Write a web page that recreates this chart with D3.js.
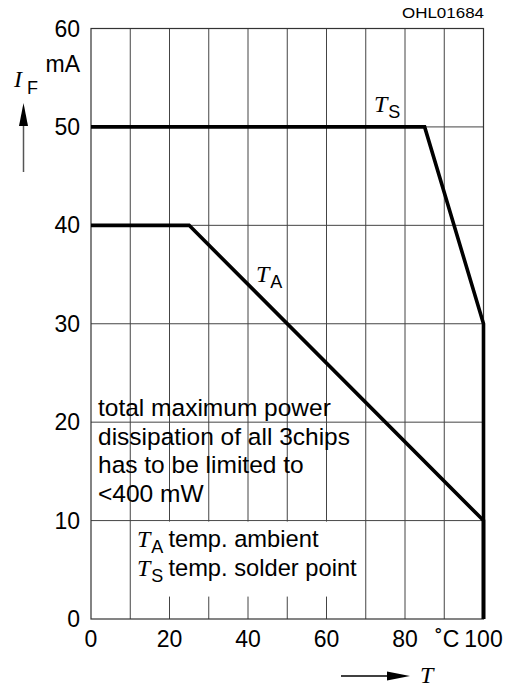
<!DOCTYPE html>
<html lang="en">
<head>
<meta charset="utf-8">
<title>OHL01684</title>
<script src="https://d3js.org/d3.v7.min.js"></script>
<style>
  body { margin: 0; background: #fff; }
  text { font-family: "Liberation Sans", Arial, sans-serif; fill: #000; }
  .it { font-family: "Liberation Serif", "Times New Roman", serif; font-style: italic; }
</style>
</head>
<body>
<script>
// data
var xTicks = [0, 20, 40, 60, 80, 100];
var yTicks = [0, 10, 20, 30, 40, 50, 60];
var gridX = [10, 20, 30, 40, 50, 60, 70, 80, 90];
var gridY = [10, 20, 30, 40, 50];

var tsTemp = [0, 85, 100, 100];
var tsCurrent = [50, 50, 30, 0];
var taTemp = [0, 25, 100, 100];
var taCurrent = [40, 40, 10, 0];

var noteLines = ["total maximum power", "dissipation of all 3chips", "has to be limited to", "<400 mW"];

var width = 509, height = 689;

var x = d3.scaleLinear().domain([0, 100]).range([91, 483.5]);
var y = d3.scaleLinear().domain([0, 60]).range([619, 28.5]);

var svg = d3.select("body").append("svg")
    .attr("width", width)
    .attr("height", height);

// grid
svg.selectAll(".gx").data(gridX).enter().append("line")
    .attr("x1", function(d) { return x(d); })
    .attr("x2", function(d) { return x(d); })
    .attr("y1", y(60)).attr("y2", y(0))
    .attr("stroke", "#444").attr("stroke-width", 1);

svg.selectAll(".gy").data(gridY).enter().append("line")
    .attr("x1", x(0)).attr("x2", x(100))
    .attr("y1", function(d) { return y(d); })
    .attr("y2", function(d) { return y(d); })
    .attr("stroke", "#444").attr("stroke-width", 1);

// frame
svg.append("rect")
    .attr("x", x(0)).attr("y", y(60))
    .attr("width", x(100) - x(0)).attr("height", y(0) - y(60))
    .attr("fill", "none").attr("stroke", "#333").attr("stroke-width", 1.2);

// white patch behind legend
svg.append("rect")
    .attr("x", x(10) + 1.5).attr("y", y(10) + 1)
    .attr("width", x(70) - x(10) - 3).attr("height", 75)
    .attr("fill", "#fff");

// curves
var line = d3.line()
    .x(function(d) { return x(d[0]); })
    .y(function(d) { return y(d[1]); });

svg.append("path")
    .datum(d3.zip(tsTemp, tsCurrent))
    .attr("d", line)
    .attr("fill", "none").attr("stroke", "#000").attr("stroke-width", 3.6)
    .attr("stroke-linejoin", "miter");

svg.append("path")
    .datum(d3.zip(taTemp, taCurrent))
    .attr("d", line)
    .attr("fill", "none").attr("stroke", "#000").attr("stroke-width", 3.6)
    .attr("stroke-linejoin", "miter");

// tick labels
svg.selectAll(".yl").data(yTicks).enter().append("text")
    .attr("x", 80)
    .attr("y", function(d) { return y(d) + 8; })
    .attr("text-anchor", "end")
    .attr("font-size", 23)
    .text(function(d) { return d; });

svg.selectAll(".xl").data(xTicks).enter().append("text")
    .attr("x", function(d) { return x(d); })
    .attr("y", 647)
    .attr("text-anchor", "middle")
    .attr("font-size", 23)
    .text(function(d) { return d; });

svg.append("text")
    .attr("x", x(90) + 3).attr("y", 647)
    .attr("text-anchor", "middle")
    .attr("font-size", 23)
    .text("\u02DAC");

svg.append("text")
    .attr("x", 80).attr("y", 72)
    .attr("text-anchor", "end")
    .attr("font-size", 23)
    .text("mA");

// y axis title with arrow
var yt = svg.append("text").attr("x", 14).attr("y", 87).attr("font-size", 24);
yt.append("tspan").attr("class", "it").text("I");
yt.append("tspan").attr("dy", 7).attr("dx", 5).attr("font-size", 18).text("F");

svg.append("line")
    .attr("x1", 23.5).attr("x2", 23.5).attr("y1", 172).attr("y2", 122)
    .attr("stroke", "#555").attr("stroke-width", 1.5);
svg.append("path")
    .attr("d", "M23.5,103 L19,126 L28,126 Z")
    .attr("fill", "#000");

// x axis title with arrow
svg.append("line")
    .attr("x1", 341).attr("x2", 390).attr("y1", 676).attr("y2", 676)
    .attr("stroke", "#000").attr("stroke-width", 1.3);
svg.append("path")
    .attr("d", "M410,676 L387,671.5 L387,680.5 Z")
    .attr("fill", "#000");
svg.append("text").attr("class", "it")
    .attr("x", 420).attr("y", 683).attr("font-size", 24)
    .text("T");

// figure code
svg.append("text")
    .attr("x", 484).attr("y", 18)
    .attr("text-anchor", "end")
    .attr("font-size", 14.5)
    .attr("textLength", 82)
    .attr("lengthAdjust", "spacingAndGlyphs")
    .text("OHL01684");

// curve labels
function subLabel(px, py, main, sub) {
    var t = svg.append("text").attr("x", px).attr("y", py).attr("font-size", 24);
    t.append("tspan").attr("class", "it").text(main);
    t.append("tspan").attr("dy", 6).attr("dx", 1).attr("font-size", 18).text(sub);
    return t;
}
subLabel(374, 112, "T", "S");
subLabel(256, 282, "T", "A");

// note text
svg.selectAll(".note").data(noteLines).enter().append("text")
    .attr("x", 98)
    .attr("y", function(d, i) { return 416 + i * 28.7; })
    .attr("font-size", 24.5)
    .text(function(d) { return d; });

// legend
var l1 = subLabel(137, 547, "T", "A");
l1.append("tspan").attr("dy", -6).attr("dx", 5).attr("font-size", 23.7).text("temp. ambient");
var l2 = subLabel(137, 576, "T", "S");
l2.append("tspan").attr("dy", -6).attr("dx", 5).attr("font-size", 23.7).text("temp. solder point");
</script>
</body>
</html>
